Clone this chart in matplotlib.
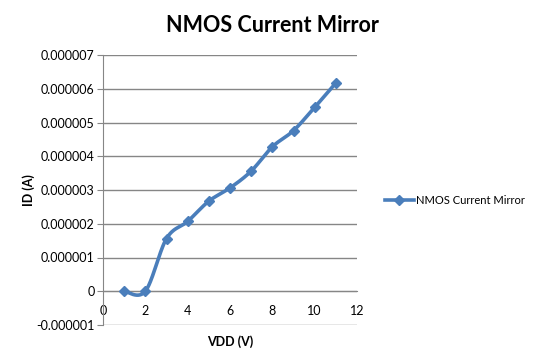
import matplotlib
matplotlib.use("Agg")
import matplotlib.pyplot as plt
import numpy as np
from matplotlib.ticker import FuncFormatter

plt.rcParams['font.family'] = ['Lato', 'DejaVu Sans']

# data
vdd = [1, 2, 3, 4, 5, 6, 7, 8, 9, 10, 11]
id_amps = [0.0, 0.0, 1.56e-6, 2.07e-6, 2.67e-6, 3.06e-6, 3.56e-6,
           4.28e-6, 4.76e-6, 5.45e-6, 6.17e-6]
series_name = "NMOS Current Mirror"
y_ticks = [-1e-6, 0, 1e-6, 2e-6, 3e-6, 4e-6, 5e-6, 6e-6, 7e-6]
x_ticks = [0, 2, 4, 6, 8, 10, 12]

blue = '#4A7EBB'
grid_gray = '#868686'


def smooth(xs, ys, n=30):
    # Excel style smoothed line: bezier segments with catmull-rom handles
    xs = np.asarray(xs, float)
    ys = np.asarray(ys, float)
    px = np.concatenate([[xs[0]], xs, [xs[-1]]])
    py = np.concatenate([[ys[0]], ys, [ys[-1]]])
    out_x, out_y = [], []
    t = np.linspace(0, 1, n)
    for i in range(1, len(px) - 2):
        p0 = np.array([px[i], py[i]])
        p3 = np.array([px[i + 1], py[i + 1]])
        c1 = p0 + (np.array([px[i + 1], py[i + 1]]) - np.array([px[i - 1], py[i - 1]])) / 6
        c2 = p3 - (np.array([px[i + 2], py[i + 2]]) - np.array([px[i], py[i]])) / 6
        b = ((1 - t) ** 3)[:, None] * p0 + (3 * (1 - t) ** 2 * t)[:, None] * c1 \
            + (3 * (1 - t) * t ** 2)[:, None] * c2 + (t ** 3)[:, None] * p3
        out_x.extend(b[:, 0])
        out_y.extend(b[:, 1])
    return out_x, out_y


fig = plt.figure(figsize=(5.44, 3.6), dpi=100)
ax = fig.add_axes([103 / 544, 1 - 325 / 360, 254 / 544, 270 / 360])

sx, sy = smooth(vdd, id_amps)
ax.plot(sx, sy, color=blue, lw=2.6, solid_capstyle='round', zorder=3)
ax.plot(vdd, id_amps, ls='none', marker='D', ms=5.5, color=blue, zorder=4)
# legend proxy
ax.plot([], [], color=blue, lw=2.6, marker='D', ms=5.5, label=series_name)

ax.set_xlim(0, 12)
ax.set_ylim(-1e-6, 7e-6)
ax.set_xticks(x_ticks)
ax.set_yticks(y_ticks)


def yfmt(v, pos):
    if abs(v) < 1e-12:
        return "0"
    return "%.6f" % v


ax.yaxis.set_major_formatter(FuncFormatter(yfmt))
ax.grid(axis='y', color=grid_gray, lw=1)
ax.set_axisbelow(True)

for s in ['top', 'right']:
    ax.spines[s].set_visible(False)
ax.spines['left'].set_color(grid_gray)
ax.spines['bottom'].set_color(grid_gray)
ax.spines['bottom'].set_position(('data', 0))

ax.tick_params(axis='y', length=4, color=grid_gray, labelsize=9, pad=2)
ax.tick_params(axis='x', length=0, labelsize=9, pad=10)

ax.set_xlabel("VDD (V)", fontsize=9, fontweight='bold')
ax.xaxis.set_label_coords(0.5, -0.04)
ax.set_ylabel("ID (A)", fontsize=9, fontweight='bold', labelpad=1)

fig.text(0.5, 1 - 25 / 360, "NMOS Current Mirror", fontsize=15.5,
         fontweight='bold', ha='center', va='center')

fig.legend(loc='center left', bbox_to_anchor=(375 / 544, 1 - 200 / 360),
           frameon=False, fontsize=8, handlelength=2.6, handletextpad=0.2)

fig.savefig("out.png", dpi=100)
